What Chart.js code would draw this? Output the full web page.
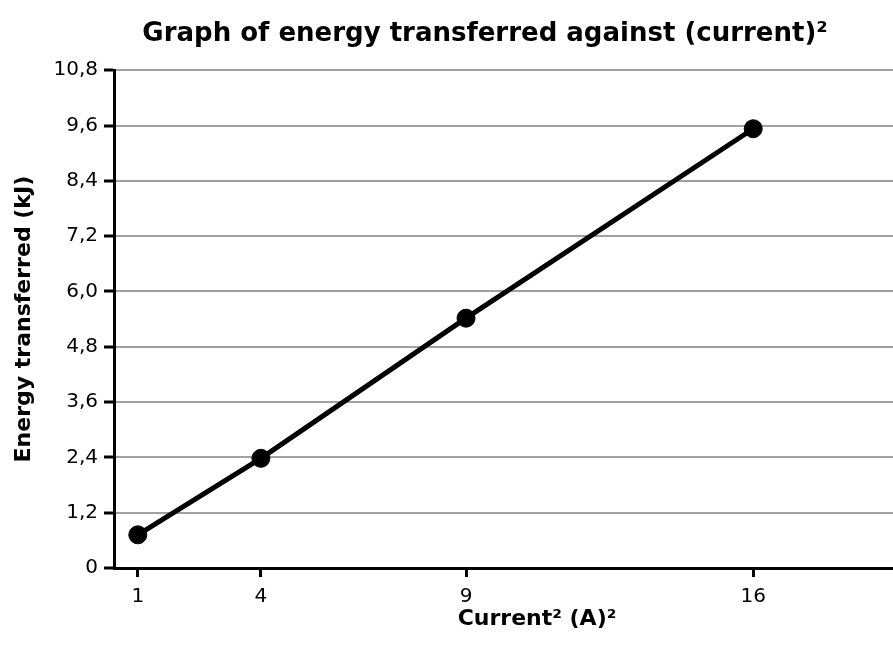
<!DOCTYPE html>
<html>
<head>
<meta charset="utf-8">
<script src="https://cdn.jsdelivr.net/npm/chart.js@4"></script>
<style>
  body { margin: 0; overflow: hidden; background: #fff; }
</style>
</head>
<body>
<canvas id="energyChart" width="970" height="650"></canvas>
<script>
// Data
const currentSquared = [1, 4, 9, 16];
const energyKJ = [0.72, 2.38, 5.42, 9.53];

// Tick values and labels
const xTicks = [1, 4, 9, 16];
const yTicks = [0, 1.2, 2.4, 3.6, 4.8, 6.0, 7.2, 8.4, 9.6, 10.8];
const yTickLabels = ['0', '1,2', '2,4', '3,6', '4,8', '6,0', '7,2', '8,4', '9,6', '10,8'];

const fontFamily = '"DejaVu Sans", "Liberation Sans", sans-serif';

const ctx = document.getElementById('energyChart');

window.energyChart = new Chart(ctx, {
  type: 'line',
  data: {
    datasets: [{
      label: 'Energy transferred',
      data: currentSquared.map((x, i) => ({ x: x, y: energyKJ[i] })),
      borderColor: '#000',
      backgroundColor: '#000',
      borderWidth: 5,
      pointRadius: 9,
      pointBorderWidth: 1,
      tension: 0,
      fill: false
    }]
  },
  options: {
    responsive: false,
    animation: false,
    layout: {
      padding: 0
    },
    plugins: {
      legend: { display: false },
      tooltip: { enabled: false },
      title: {
        display: true,
        text: 'Graph of energy transferred against (current)²',
        color: '#000',
        font: { family: fontFamily, size: 26, weight: 'bold' },
        padding: { top: 19, bottom: 20 }
      }
    },
    scales: {
      x: {
        type: 'linear',
        min: 0.42,
        max: 21.04,
        afterBuildTicks: function(scale) {
          scale.ticks = xTicks.map(v => ({ value: v }));
        },
        afterFit: function(scale) {
          scale.height = 82;
        },
        ticks: {
          color: '#000',
          font: { family: fontFamily, size: 20 },
          padding: 8,
          maxRotation: 0
        },
        grid: {
          drawOnChartArea: false,
          color: '#000',
          tickColor: '#000',
          tickLength: 9,
          tickWidth: 3
        },
        border: { color: '#000', width: 3 },
        title: {
          display: true,
          text: 'Current² (A)²',
          color: '#000',
          font: { family: fontFamily, size: 22, weight: 'bold' },
          padding: { top: 0, bottom: 18 }
        }
      },
      y: {
        min: 0,
        max: 10.8,
        afterBuildTicks: function(scale) {
          scale.ticks = yTicks.map(v => ({ value: v }));
        },
        afterFit: function(scale) {
          scale.width = 114;
        },
        ticks: {
          color: '#000',
          font: { family: fontFamily, size: 20 },
          padding: 6,
          callback: function(value) {
            const i = yTicks.findIndex(t => Math.abs(t - value) < 1e-6);
            return i >= 0 ? yTickLabels[i] : '';
          }
        },
        grid: {
          color: '#a0a0a0',
          lineWidth: 2,
          tickColor: '#000',
          tickLength: 10,
          tickWidth: 3
        },
        border: { color: '#000', width: 3 },
        title: {
          display: true,
          text: 'Energy transferred (kJ)',
          color: '#000',
          font: { family: fontFamily, size: 22, weight: 'bold' },
          padding: { top: 11, bottom: 4 }
        }
      }
    }
  }
});
</script>
</body>
</html>
